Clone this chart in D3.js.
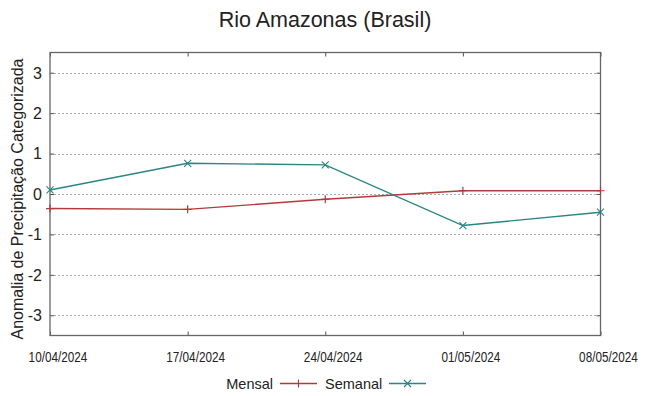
<!DOCTYPE html>
<html>
<head>
<meta charset="utf-8">
<script src="https://cdn.jsdelivr.net/npm/d3@7"></script>
<style>
  body { margin: 0; background: #fff; }
  text { font-family: "Liberation Sans", Arial, sans-serif; fill: #222; }
</style>
</head>
<body>
<div id="chart"></div>
<script>
// data
var dates = ["10/04/2024", "17/04/2024", "24/04/2024", "01/05/2024", "08/05/2024"];
var mensal = [-0.36, -0.38, -0.13, 0.08, 0.08];
var semanal = [0.1, 0.76, 0.72, -0.78, -0.45];
var yTicks = [-3, -2, -1, 0, 1, 2, 3];

var width = 649, height = 396;
var pLeft = 50, pRight = 600.5, pTop = 52.5, pBottom = 335.5;
var red = "#b33a3a", teal = "#2a8585";

var svg = d3.select("#chart").append("svg")
  .attr("width", width)
  .attr("height", height);

var x = d3.scalePoint().domain(dates).range([pLeft, pRight]);
var y = d3.scaleLinear().domain([-3.5, 3.5]).range([pBottom, pTop]);

// grid
svg.append("g").selectAll("line")
  .data(yTicks)
  .enter().append("line")
  .attr("x1", pLeft).attr("x2", pRight)
  .attr("y1", function(d) { return Math.round(y(d)) + 0.5; })
  .attr("y2", function(d) { return Math.round(y(d)) + 0.5; })
  .attr("stroke", "#aaa")
  .attr("stroke-width", 1)
  .attr("stroke-dasharray", "2,2");

// axes (ticks inward)
var yl = svg.append("g").attr("transform", "translate(" + pLeft + ",0)")
  .call(d3.axisRight(y).tickValues(yTicks).tickSize(4).tickFormat(""));
var yr = svg.append("g").attr("transform", "translate(" + pRight + ",0)")
  .call(d3.axisLeft(y).tickValues(yTicks).tickSize(4).tickFormat(""));
var xb = svg.append("g").attr("transform", "translate(0," + pBottom + ")")
  .call(d3.axisTop(x).tickSize(4).tickFormat(""));
var xt = svg.append("g").attr("transform", "translate(0," + pTop + ")")
  .call(d3.axisBottom(x).tickSize(4).tickFormat(""));
[yl, yr, xb, xt].forEach(function(g) {
  g.select(".domain").remove();
  g.selectAll("line").attr("stroke", "#555");
});

// tick labels
svg.append("g").selectAll("text")
  .data(yTicks)
  .enter().append("text")
  .attr("x", 42)
  .attr("y", function(d) { return y(d) + 5.8; })
  .attr("text-anchor", "end")
  .style("font-size", "16px")
  .text(function(d) { return d; });

// date labels: narrow look, sitting a bit right of their ticks as in the original
svg.append("g").selectAll("text")
  .data(dates)
  .enter().append("text")
  .attr("transform", function(d) { return "translate(" + (x(d) + 8) + ",361.5) scale(0.84,1)"; })
  .attr("text-anchor", "middle")
  .style("font-size", "14px")
  .text(function(d) { return d; });

// border
svg.append("rect")
  .attr("x", pLeft).attr("y", pTop)
  .attr("width", pRight - pLeft).attr("height", pBottom - pTop)
  .attr("fill", "none")
  .attr("stroke", "#666")
  .attr("stroke-width", 1.3);

// series
var line = d3.line()
  .x(function(d, i) { return x(dates[i]); })
  .y(function(d) { return y(d); });

function plus(g, cx, cy, s, c) {
  g.append("path")
    .attr("d", "M" + (cx - s) + "," + cy + "H" + (cx + s) + "M" + cx + "," + (cy - s) + "V" + (cy + s))
    .attr("stroke", c).attr("stroke-width", 1.2).attr("fill", "none");
}
function cross(g, cx, cy, s, c) {
  g.append("path")
    .attr("d", "M" + (cx - s) + "," + (cy - s) + "L" + (cx + s) + "," + (cy + s) +
               "M" + (cx - s) + "," + (cy + s) + "L" + (cx + s) + "," + (cy - s))
    .attr("stroke", c).attr("stroke-width", 1.1).attr("fill", "none");
}

svg.append("path").datum(mensal)
  .attr("d", line).attr("fill", "none")
  .attr("stroke", red).attr("stroke-width", 1.4);
var mg = svg.append("g");
mensal.forEach(function(v, i) { plus(mg, x(dates[i]), y(v), 4, red); });

svg.append("path").datum(semanal)
  .attr("d", line).attr("fill", "none")
  .attr("stroke", teal).attr("stroke-width", 1.4);
var sg = svg.append("g");
semanal.forEach(function(v, i) { cross(sg, x(dates[i]), y(v), 3.5, teal); });

// title and y label
svg.append("text")
  .attr("x", 325).attr("y", 27)
  .attr("text-anchor", "middle")
  .style("font-size", "21.5px")
  .text("Rio Amazonas (Brasil)");

svg.append("text")
  .attr("transform", "translate(23," + 199 + ") rotate(-90)")
  .attr("text-anchor", "middle")
  .style("font-size", "16px")
  .text("Anomalia de Precipitação Categorizada");

// legend
var legY = 383.5;
svg.append("text").attr("x", 273).attr("y", legY + 5)
  .attr("text-anchor", "end").style("font-size", "14.5px").text("Mensal");
svg.append("line").attr("x1", 280).attr("x2", 317)
  .attr("y1", legY).attr("y2", legY)
  .attr("stroke", red).attr("stroke-width", 1.4);
plus(svg, 298.5, legY, 4, red);

svg.append("text").attr("x", 325).attr("y", legY + 5)
  .attr("text-anchor", "start").style("font-size", "14.5px").text("Semanal");
svg.append("line").attr("x1", 389).attr("x2", 426)
  .attr("y1", legY).attr("y2", legY)
  .attr("stroke", teal).attr("stroke-width", 1.4);
cross(svg, 407.5, legY, 3.5, teal);
</script>
</body>
</html>
